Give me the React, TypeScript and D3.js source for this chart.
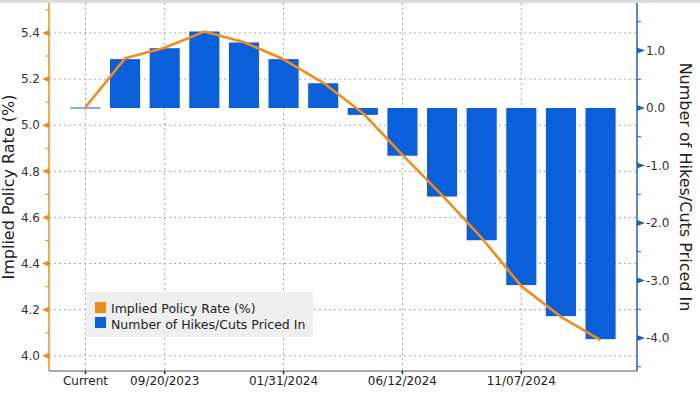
import React from "react";
import * as d3 from "d3";

// meeting dates (first entry is the spot level)
const meetings = [
  "Current",
  "07/26/2023",
  "09/20/2023",
  "11/01/2023",
  "12/13/2023",
  "01/31/2024",
  "03/20/2024",
  "05/01/2024",
  "06/12/2024",
  "07/31/2024",
  "09/18/2024",
  "11/07/2024",
  "12/18/2024",
  "01/29/2025",
];
const shownDates = ["Current", "09/20/2023", "01/31/2024", "06/12/2024", "11/07/2024"];

// implied policy rate (%) - left axis
const impliedRate = [
  5.078, 5.29, 5.336, 5.406, 5.36, 5.286, 5.184, 5.053, 4.871, 4.697, 4.511, 4.302, 4.169, 4.068,
];
// number of hikes / cuts priced in - right axis
const hikesCuts = [
  0, 0.85, 1.04, 1.33, 1.14, 0.85, 0.43, -0.12, -0.83, -1.54, -2.3, -3.08, -3.62, -4.02,
];

const leftTicks = [4.0, 4.2, 4.4, 4.6, 4.8, 5.0, 5.2, 5.4];
const leftMinor = [4.1, 4.3, 4.5, 4.7, 4.9, 5.1, 5.3, 5.5];
const rightTicks = [-4, -3, -2, -1, 0, 1];
const rightMinor = [-4.5, -3.5, -2.5, -1.5, -0.5, 0.5, 1.5];

const ORANGE = "#f08c1e";
const BLUE = "#0b5fd9";
const FONT = "'DejaVu Sans', sans-serif";

export default function App() {
  const width = 700;
  const height = 394;
  const left = 49;
  const right = 637;
  const top = 3;
  const bottom = 371;

  const x = d3.scalePoint<string>().domain(meetings).range([left, right]).padding(0.92);
  const yL = d3.scaleLinear().domain([3.934, 5.543]).range([bottom, 0]);
  const yR = d3.scaleLinear().domain([-4.574, 1.878]).range([bottom, 0]);
  const barW = x.step() * 0.76;

  const line = d3
    .line<number>()
    .x((_, i) => x(meetings[i]) as number)
    .y((d) => yL(d));

  return (
    <svg
      width={width}
      height={height}
      style={{ position: "fixed", left: 0, top: 0, background: "#fff", fontFamily: FONT }}
    >
      <rect x={0} y={0} width={width} height={top} fill="#dcdcdc" />

      {/* grid */}
      {leftTicks.map((t) => (
        <line
          key={"hg" + t}
          x1={left}
          x2={right}
          y1={yL(t)}
          y2={yL(t)}
          stroke="#a8a8a8"
          strokeWidth={1}
          strokeDasharray="2,3"
        />
      ))}
      {shownDates.map((d) => (
        <line
          key={"vg" + d}
          x1={x(d)}
          x2={x(d)}
          y1={top}
          y2={bottom}
          stroke="#a8a8a8"
          strokeWidth={1}
          strokeDasharray="2,3"
        />
      ))}

      {/* bars */}
      {hikesCuts.map((v, i) => {
        const y0 = yR(0);
        const y1 = yR(v);
        const h = Math.max(1, Math.abs(y1 - y0));
        return (
          <rect
            key={"b" + i}
            x={(x(meetings[i]) as number) - barW / 2}
            y={v >= 0 ? y0 - (v === 0 ? 0.5 : h) : y0}
            width={barW}
            height={h}
            fill={BLUE}
          />
        );
      })}

      {/* implied rate line */}
      <path d={line(impliedRate) || ""} fill="none" stroke={ORANGE} strokeWidth={2.6} strokeLinejoin="round" />

      {/* left axis */}
      <line x1={left} x2={left} y1={top} y2={bottom} stroke={ORANGE} strokeWidth={1.5} />
      {leftMinor.map((t) => (
        <line key={"lm" + t} x1={left - 4} x2={left} y1={yL(t)} y2={yL(t)} stroke={ORANGE} strokeWidth={1} />
      ))}
      {leftTicks.map((t) => (
        <g key={"lt" + t}>
          <path
            d={`M${left},${yL(t) - 3}L${left - 7},${yL(t)}L${left},${yL(t) + 3}Z`}
            fill={ORANGE}
          />
          <text x={left - 9} y={yL(t)} dy="0.35em" textAnchor="end" fontSize={12} fill="#333">
            {t.toFixed(1)}
          </text>
        </g>
      ))}
      <text
        transform={`translate(${14},${187}) rotate(-90)`}
        textAnchor="middle"
        fontSize={16}
        fill="#222"
      >
        Implied Policy Rate (%)
      </text>

      {/* right axis */}
      <line x1={right} x2={right} y1={top} y2={bottom} stroke="#2462b0" strokeWidth={1.5} />
      {rightMinor.map((t) => (
        <line key={"rm" + t} x1={right} x2={right + 4} y1={yR(t)} y2={yR(t)} stroke="#2462b0" strokeWidth={1} />
      ))}
      {rightTicks.map((t) => (
        <g key={"rt" + t}>
          <path
            d={`M${right},${yR(t) - 3}L${right + 8},${yR(t)}L${right},${yR(t) + 3}Z`}
            fill="#2462b0"
          />
          <text x={right + 9} y={yR(t)} dy="0.35em" textAnchor="start" fontSize={12} fill="#333">
            {t.toFixed(1)}
          </text>
        </g>
      ))}
      <text
        transform={`translate(${680},${187}) rotate(90)`}
        textAnchor="middle"
        fontSize={16}
        fill="#222"
      >
        Number of Hikes/Cuts Priced In
      </text>

      {/* bottom axis */}
      <line x1={left} x2={right} y1={bottom} y2={bottom} stroke="#555" strokeWidth={1.2} />
      {shownDates.map((d) => (
        <g key={"xt" + d}>
          <line x1={x(d)} x2={x(d)} y1={bottom} y2={bottom + 3} stroke="#222" strokeWidth={1.5} />
          <text x={x(d)} y={385} textAnchor="middle" fontSize={12} fill="#222">
            {d}
          </text>
        </g>
      ))}

      {/* legend */}
      <rect x={87} y={292} width={226} height={45} fill="#efefef" />
      <rect x={95} y={302} width={11} height={11} fill={ORANGE} />
      <text x={111} y={312.5} fontSize={12.5} fill="#222">
        Implied Policy Rate (%)
      </text>
      <rect x={95} y={317} width={11} height={11} fill={BLUE} />
      <text x={111} y={328.5} fontSize={12.5} fill="#222">
        Number of Hikes/Cuts Priced In
      </text>
    </svg>
  );
}
